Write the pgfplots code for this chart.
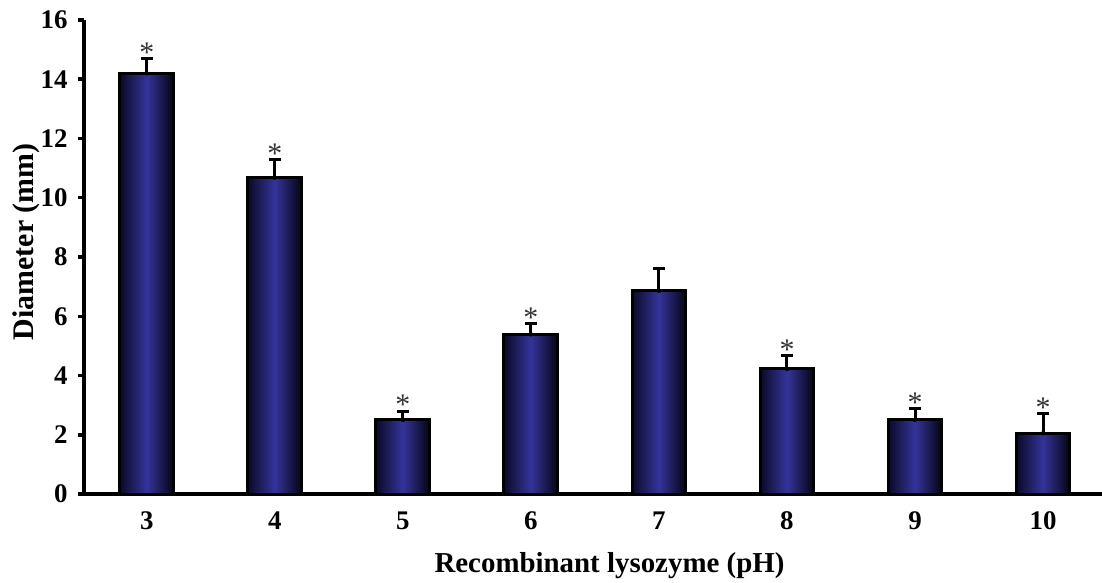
\documentclass[border=0pt]{standalone}
\usepackage{pgfplots}
\pgfplotsset{compat=1.18}
\usepackage{pgfplotstable}
\usepackage{fontspec}
\setmainfont{Liberation Serif}
\definecolor{barmid}{RGB}{52,52,154}
\definecolor{baredgeL}{RGB}{10,10,40}
\definecolor{baredgeR}{RGB}{4,4,18}
\pgfplotstableread{
x y e
0 14.20 0.51
1 10.68 0.62
2 2.50 0.30
3 5.39 0.37
4 6.86 0.76
5 4.22 0.46
6 2.50 0.39
7 2.05 0.67
}\bars
\pgfplotstableread{
x y
0 14.71
1 11.30
2 2.80
3 5.76
5 4.68
6 2.89
7 2.72
}\stars
\pgfplotsset{shadedbar/.style={ybar, bar width=0.42, draw=black, line width=3bp,
  left color=baredgeL, right color=baredgeR, middle color=barmid}}
\begin{document}
\begin{tikzpicture}
\begin{axis}[
  scale only axis, width=1018bp, height=474bp,
  xmin=-0.49, xmax=7.46, ymin=0, ymax=16,
  clip=false,
  axis x line=bottom, axis y line=left,
  axis line style={-, line width=4bp, black},
  xtick={0,...,7}, xticklabels={3,4,5,6,7,8,9,10},
  xtick style={draw=none},
  ytick={0,2,...,16},
  ytick style={line width=3.5bp, black},
  major tick length=6bp, tick align=outside,
  ticklabel style={font=\bfseries\fontsize{27}{27}\selectfont},
  yticklabel style={xshift=-7bp},
  xticklabel style={yshift=-8bp},
  /pgf/number format/assume math mode=true,
  xlabel={Recombinant lysozyme (pH)},
  ylabel={Diameter (mm)},
  xlabel style={at={(axis description cs:0.5162,-0.1646)}, anchor=base, font=\bfseries\fontsize{29}{29}\selectfont},
  ylabel style={at={(axis description cs:-0.050,0.532)}, anchor=base, font=\bfseries\fontsize{30}{30}\selectfont},
]
\addplot[shadedbar] coordinates {(0,14.20)};
\addplot[shadedbar] coordinates {(1,10.68)};
\addplot[shadedbar] coordinates {(2,2.50)};
\addplot[shadedbar] coordinates {(3,5.39)};
\addplot[shadedbar] coordinates {(4,6.86)};
\addplot[shadedbar] coordinates {(5,4.22)};
\addplot[shadedbar] coordinates {(6,2.50)};
\addplot[shadedbar] coordinates {(7,2.05)};
\addplot[only marks, mark=none,
  error bars/.cd, y dir=plus, y explicit,
  error bar style={line width=3bp, black, solid},
  error mark=-,
  error mark options={rotate=90, line width=3bp, mark size=6bp, black, solid}]
  table[x=x, y=y, y error=e] {\bars};
\addplot[draw=none, nodes near coords={*},
  nodes near coords style={anchor=south, inner sep=0pt, yshift=-4bp, text=black!80, font=\fontsize{30}{30}\selectfont}]
  table[x=x, y=y] {\stars};
\coordinate (O) at (rel axis cs:0,0);
\end{axis}
\pgfresetboundingbox
\path ([shift={(-84bp,-89bp)}]O) rectangle ([shift={(1018bp,494bp)}]O);
\end{tikzpicture}
\end{document}
